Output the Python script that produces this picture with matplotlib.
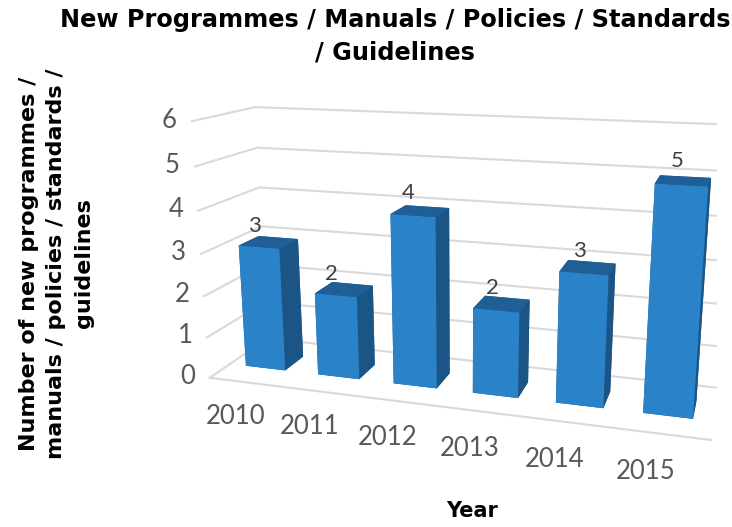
import matplotlib.pyplot as plt

years = ["2010", "2011", "2012", "2013", "2014", "2015"]
counts = [3, 2, 4, 2, 3, 5]
z_ticks = [0, 1, 2, 3, 4, 5, 6]

plt.rcParams["font.family"] = ["Lato", "DejaVu Sans"]

front_c = "#2a82c9"
top_c = "#1f5f96"
side_c = "#1b5585"
grid_c = "#d9d9d9"
tick_c = "#595959"

fig = plt.figure(figsize=(7.32, 5.27), dpi=100)
ax = fig.add_axes([0.26, -0.002, 0.72, 1.0], projection="3d")
ax.set_proj_type("persp", focal_length=0.35)
ax.view_init(elev=15, azim=-73)
ax.set_box_aspect((6, 1.5, 3.15), zoom=1.09)
ax.set_xlim(-0.5, 5.5)
ax.set_ylim(0, 1)
ax.set_zlim(0, 6)
ax.set_axis_off()

# wall gridlines (left wall + back wall) and floor front edge
for v in z_ticks:
    ax.plot([-0.5, -0.5], [0, 1], [v, v], color=grid_c, lw=1.5)
    ax.plot([-0.5, 5.5], [1, 1], [v, v], color=grid_c, lw=1.5)
    ax.text(-0.7, 0, v, str(v), ha="right", va="center",
            fontsize=18.5, color=tick_c)
ax.plot([-0.5, 5.5], [0, 0], [0, 0], color=grid_c, lw=1.5)

# bars: face order is bottom, top, front, back, left, right
n = len(counts)
xs = [i - 0.275 for i in range(n)]
face_colors = []
for _ in range(n):
    face_colors += [side_c, top_c, front_c, side_c, side_c, side_c]
ax.bar3d(xs, [0.33] * n, [0] * n, 0.55, 0.34, counts,
         color=face_colors, shade=False, edgecolor="none")

for i, c in enumerate(counts):
    ax.text(i - 0.05, 0.33, c + 0.27, str(c), ha="center", va="bottom",
            fontsize=16, color="#404040")
    ax.text(i - 0.17, 0, -0.9, years[i], ha="center", va="center",
            fontsize=18.5, color=tick_c)

fig.text(0.54, 0.985, "New Programmes / Manuals / Policies / Standards\n/ Guidelines",
         ha="center", va="top", fontsize=17.3, fontweight="bold",
         family="DejaVu Sans", linespacing=1.45)
fig.text(0.077, 0.5, "Number of new programmes /\nmanuals / policies / standards /\nguidelines",
         ha="center", va="center", rotation=90, fontsize=16,
         fontweight="bold", family="DejaVu Sans", linespacing=1.45)
fig.text(0.645, 0.03, "Year", ha="center", va="center",
         fontsize=15, fontweight="bold", family="DejaVu Sans")

fig.savefig("out.png", dpi=100)
